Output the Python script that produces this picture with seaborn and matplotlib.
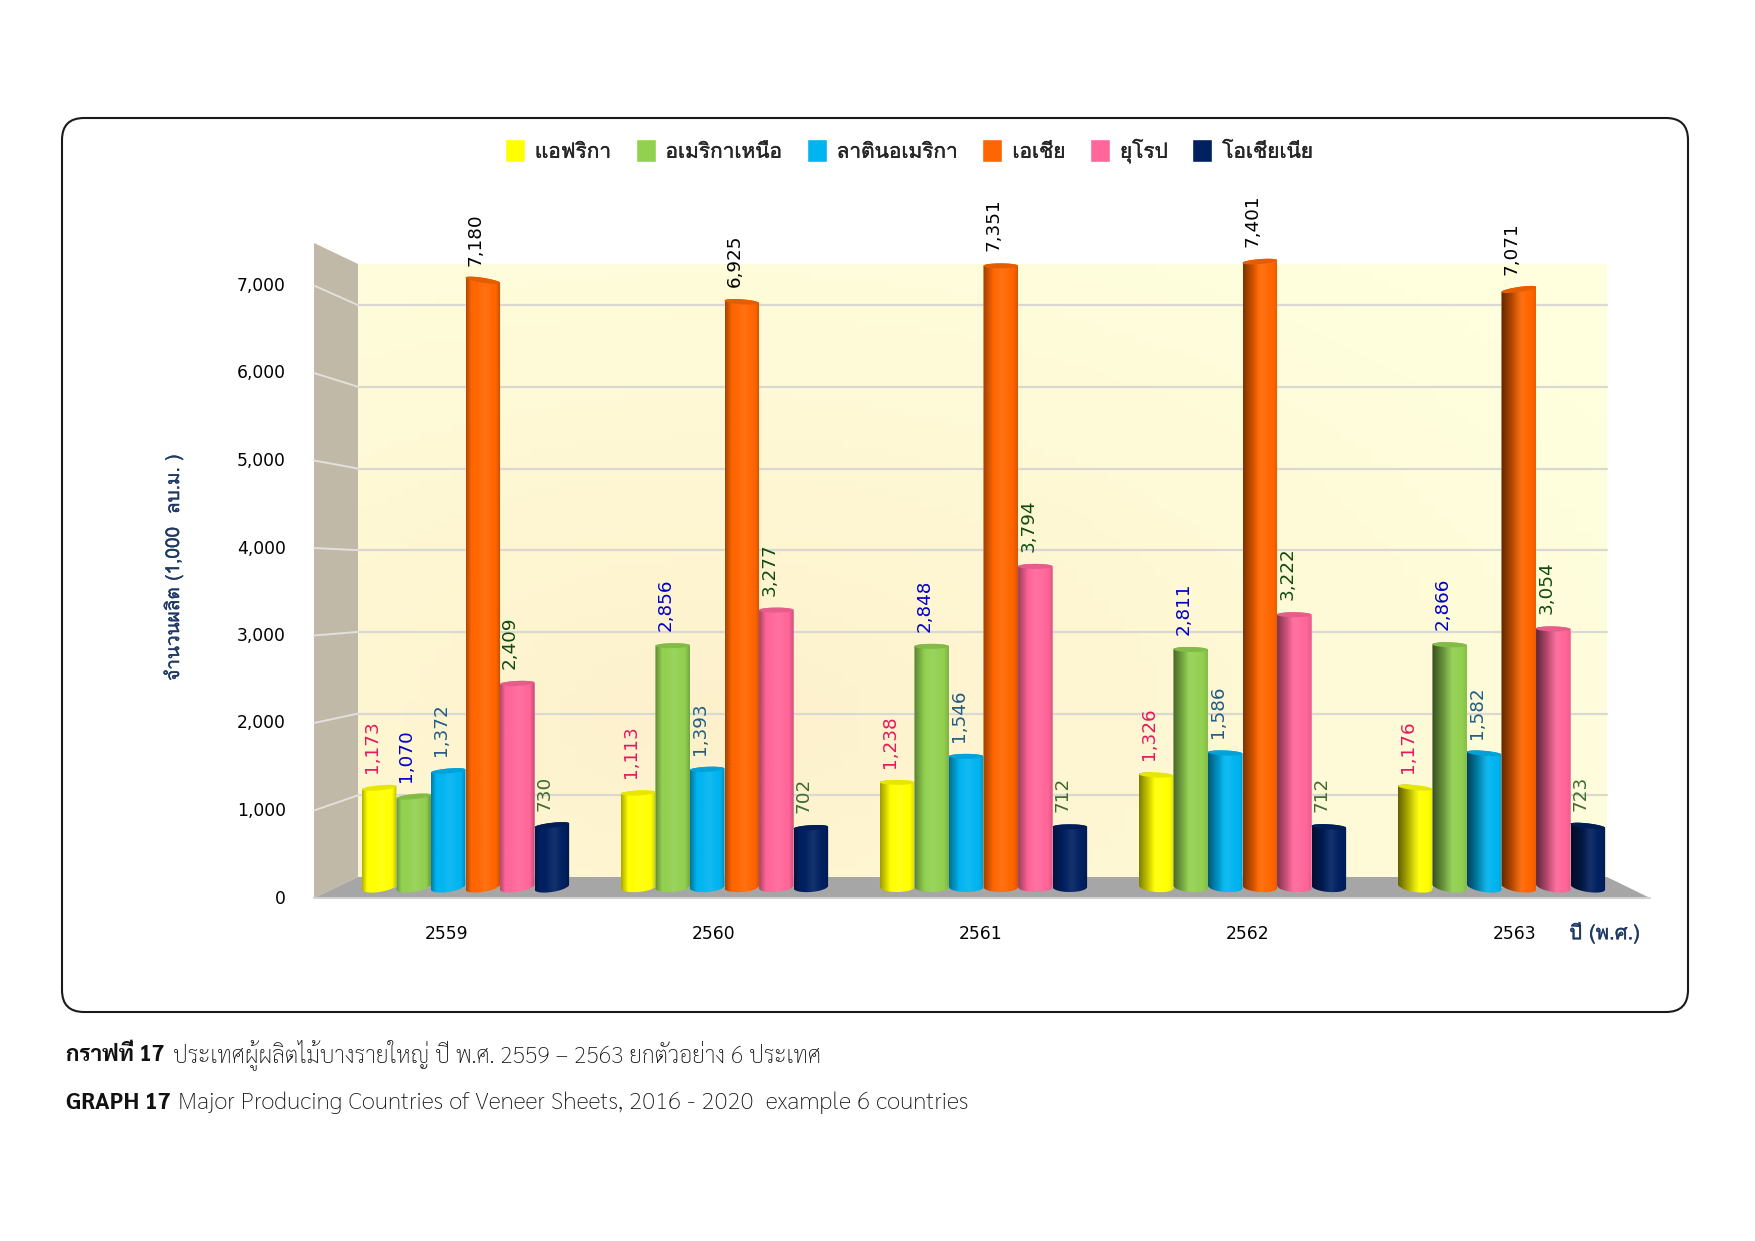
import matplotlib
matplotlib.use("Agg")
from matplotlib import pyplot as plt
from matplotlib import patheffects as pe
from matplotlib.patches import FancyBboxPatch, Polygon
import numpy as np
import pandas as pd
import seaborn as sns

# values
years = ["2559", "2560", "2561", "2562", "2563"]
regions = ["แอฟริกา", "อเมริกาเหนือ", "ลาตินอเมริกา", "เอเชีย", "ยุโรป", "โอเชียเนีย"]
africa = [1173, 1113, 1238, 1326, 1176]
north_america = [1070, 2856, 2848, 2811, 2866]
latin_america = [1372, 1393, 1546, 1586, 1582]
asia = [7180, 6925, 7351, 7401, 7071]
europe = [2409, 3277, 3794, 3222, 3054]
oceania = [730, 702, 712, 712, 723]
ticks = [0, 1000, 2000, 3000, 4000, 5000, 6000, 7000]

colors = ["#FFFF00", "#92D050", "#00B4F0", "#FF6600", "#FF6699", "#002060"]
label_colors = ["#E6175C", "#0000CC", "#215C84", "#000000", "#0F4A0F", "#3F6B30"]
navy = "#1F3864"
digits = ["DejaVu Sans", "Loma"]

W, H = 1755, 1241
sns.set_theme(style="white")
plt.rcParams["font.family"] = ["Loma", "DejaVu Sans"]

df = pd.DataFrame({
    "year": years * 6,
    "region": np.repeat(regions, 5),
    "value": africa + north_america + latin_america + asia + europe + oceania,
})

fig = plt.figure(figsize=(W / 100, H / 100), dpi=100)


def box(left, right, zero, top):
    # axes rectangle from pixel positions in the picture
    return [left / W, 1 - zero / H, (right - left) / W, (zero - top) / H]


# frame, walls and floor, in picture pixels
bg = fig.add_axes([0, 0, 1, 1])
bg.set_xlim(0, W)
bg.set_ylim(H, 0)
bg.axis("off")
bg.add_patch(FancyBboxPatch((62, 118), 1626, 894, boxstyle="round,pad=0,rounding_size=22",
                            fc="white", ec="#1a1a1a", lw=1.5))
xx, yy = np.meshgrid(np.linspace(0, 1, 80), np.linspace(0, 1, 80))
mix = np.clip(1 - np.hypot(xx - 0.28, (yy - 0.75) * 0.9) / 0.85, 0, 1)[..., None]
wall = np.array([1.0, 1.0, 0.87]) * (1 - mix) + np.array([0.995, 0.945, 0.80]) * mix
bg.imshow(wall, extent=(358, 1607, 877, 264), aspect="auto", zorder=1)
bg.set_xlim(0, W)
bg.set_ylim(H, 0)
bg.add_patch(Polygon([(314, 243), (358, 264), (358, 877), (314, 898)], fc="#C0B9A8", ec="none", zorder=1))
bg.add_patch(Polygon([(314, 898), (358, 877), (1607, 877), (1650, 898)], fc="#A6A6A6", ec="none", zorder=2))
bg.plot([314, 1650], [898, 898], color="#D2D2D2", lw=1.5, zorder=2)
for t in ticks[1:]:
    y_back = 877 - t * 0.0817
    y_front = 898 - t * 0.0875
    bg.plot([358, 1607], [y_back, y_back], color="#D9D8D2", lw=1.6, zorder=2)
    bg.plot([314, 358], [y_front, y_back], color="#E2E0DA", lw=1.4, zorder=2)

# tick labels sit on the front edge of the floor
front = fig.add_axes(box(313.5, 1648.5, 896.5, 896.5 - 8 * 87.5))
front.patch.set_visible(False)
front.set_xlim(-0.5, 4.5)
front.set_ylim(0, 8000)
front.set_xticks(range(5), years)
front.set_yticks(ticks, [f"{t:,}" for t in ticks])
front.tick_params(axis="x", length=0, pad=20.3, labelcolor="black")
front.tick_params(axis="y", length=0, pad=20, labelcolor="black")
for lab in front.get_xticklabels() + front.get_yticklabels():
    lab.set_family(digits)
    lab.set_fontsize(12.3)
sns.despine(ax=front, left=True, bottom=True)

# bars, with some room under zero for the round bottoms
below = 100
ax = fig.add_axes(box(336, 1631, 887 + below * 0.0845, 211))
ax.patch.set_visible(False)
sns.barplot(data=df, x="year", y="value", hue="region", palette=colors, width=0.8, gap=0,
            saturation=1, ax=ax)
ax.set_xlim(-0.5, 4.5)
ax.set_ylim(-below, 8000)
ax.axis("off")

px_y = 1 / 0.0845
dark_left = [0.30, 0.34, 0.38, 0.50, 0.62]
dark_right = [0.25, 0.20, 0.15, 0.10, 0.08]
left_span = [0.15, 0.20, 0.30, 0.45, 0.60]
arc = np.linspace(0, np.pi, 40)
arc_cos, arc_sin = np.cos(arc), np.sin(arc)

for h, cont in enumerate(ax.containers):
    base = np.array(matplotlib.colors.to_rgb(colors[h]))
    z = 5 + h
    for g, bar in enumerate(cont):
        x0, w, v = bar.get_x(), bar.get_width(), bar.get_height()
        cx = x0 + w / 2
        lean = (g - 2) / 2

        def tilt(val):
            return -lean * (3500 - val) / 3500 * 2.5 * px_y

        top_x = cx + w / 2 * arc_cos
        top_y = v + 2.5 * px_y * arc_sin + tilt(v) * arc_cos
        bot_x = cx - w / 2 * arc_cos
        bot_y = -5 * px_y * arc_sin - tilt(0) * arc_cos
        body = Polygon(np.r_[np.c_[bot_x, bot_y], np.c_[top_x, top_y]], fc="none", ec="none",
                       clip_on=False)
        ax.add_patch(body)
        bar.set_zorder(z)
        bar.set_clip_path(body)

        u = np.linspace(0, 1, 64)
        shade = np.interp(u, [0, left_span[g], 0.86, 1], [1 - dark_left[g], 1, 1, 1 - dark_right[g]])
        glow = np.clip(1 - np.abs(u - 0.55) / 0.25, 0, 1)[..., None] * 0.08
        row = base[None, :] * shade[..., None]
        row = row * (1 - glow) + glow
        img = ax.imshow(row[None, ...], extent=(x0, x0 + w, -6 * px_y, v + 6 * px_y),
                        aspect="auto", zorder=z, interpolation="bilinear")
        img.set_clip_path(body)

        cap_y = np.r_[v + 2.5 * px_y * arc_sin + tilt(v) * arc_cos,
                      v - 2.5 * px_y * arc_sin[::-1] + tilt(v) * arc_cos[::-1]]
        cap_x = np.r_[top_x, top_x[::-1]]
        ax.add_patch(Polygon(np.c_[cap_x, cap_y], fc=base * 0.9, ec="none", zorder=z + 0.1, clip_on=False))

        ax.annotate(f"{int(v):,}", (cx, v), xytext=(-5.2, 10.5), textcoords="offset points",
                    rotation=90, ha="center", va="bottom", fontsize=13.2, family=digits,
                    color=label_colors[h], zorder=20)

sns.move_legend(ax, "center", bbox_to_anchor=(909 / W, 1 - 151 / H), bbox_transform=fig.transFigure,
                ncol=6, frameon=False, title="", fontsize=15, handlelength=0.96, handleheight=1.3,
                handletextpad=0.48, columnspacing=1.17, borderpad=0)
for lab in ax.get_legend().get_texts():
    lab.set_path_effects([pe.withStroke(linewidth=0.25, foreground="black")])

# axis titles and captions
txt = fig.add_axes([0, 0, 1, 1], zorder=30)
txt.set_xlim(0, W)
txt.set_ylim(H, 0)
txt.axis("off")
thick = [pe.withStroke(linewidth=0.25, foreground=navy)]
txt.text(173, 568, "จำนวนผลิต (1,000  ลบ.ม. )", rotation=90, ha="center", va="center",
         fontsize=13.7, color=navy, path_effects=thick)
txt.text(1640, 932, "ปี (พ.ศ.)", ha="right", va="center", fontsize=14.6, color=navy, path_effects=thick)

cap = ["Sarabun", "DejaVu Sans"]
txt.text(66, 1055, "กราฟที่ 17", family=cap, fontsize=16.2, fontweight="bold", va="center", color="#111111")
txt.text(173, 1055, "ประเทศผู้ผลิตไม้บางรายใหญ่ ปี พ.ศ. 2559 – 2563 ยกตัวอย่าง 6 ประเทศ", family=cap,
         fontsize=16.6, fontweight="light", va="center", color="#111111")
txt.text(66, 1103, "GRAPH 17", family=cap, fontsize=16.6, fontweight="bold", va="center", color="#111111")
txt.text(178, 1103, "Major Producing Countries of Veneer Sheets, 2016 - 2020  example 6 countries", family=cap,
         fontsize=17.4, fontweight="light", va="center", color="#111111")

fig.savefig("out.png", dpi=100)
